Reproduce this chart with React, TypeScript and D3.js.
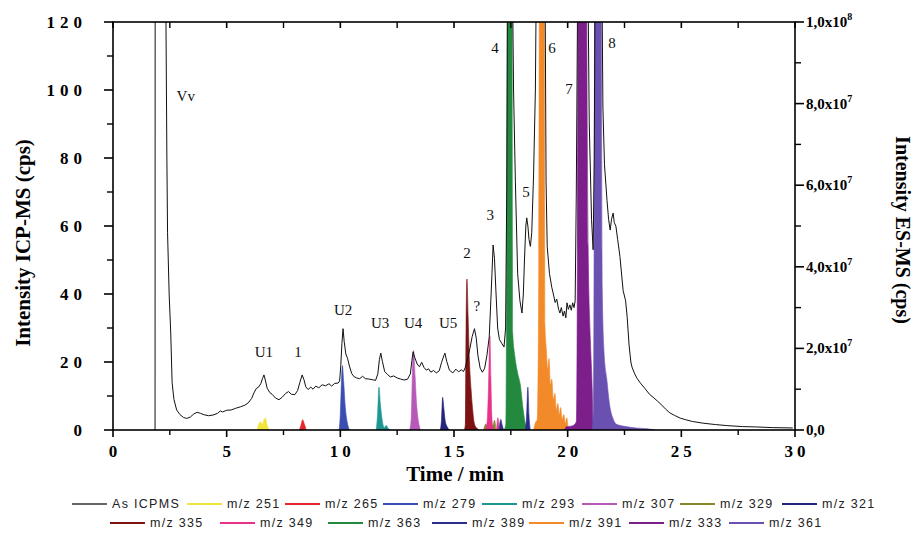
import React from "react";
import * as d3 from "d3";

type P = [number, number];

// ---------- axis ticks ----------
const timeTicks = [0, 5, 10, 15, 20, 25, 30];
const timeMinorTicks = [2.5, 7.5, 12.5, 17.5, 22.5, 27.5];
const icpTicks = [0, 20, 40, 60, 80, 100, 120];
const icpMinorTicks = [10, 30, 50, 70, 90, 110];
const esTicks = [0, 2e7, 4e7, 6e7, 8e7, 1e8];
const esMinorTicks = [1e7, 3e7, 5e7, 7e7, 9e7];
const esTickMantissa = ["0,0", "2,0x10", "4,0x10", "6,0x10", "8,0x10", "1,0x10"];
const esTickExponent = ["", "7", "7", "7", "7", "8"];

// ---------- As ICP-MS trace (time min, cps) ----------
const asIcpms: P[] = [
  [1.85, 0], [1.86, 300], [2.28, 300], [2.33, 120], [2.37, 80], [2.4, 58], [2.47, 40], [2.54, 28.5],
  [2.6, 14], [2.68, 9], [2.8, 5.9], [2.95, 4.5], [3.1, 3.7], [3.24, 3.4], [3.4, 3.8], [3.55, 4.7],
  [3.7, 5.2], [3.85, 4.9], [4.0, 4.5], [4.2, 4.2], [4.4, 4.4], [4.6, 4.9], [4.72, 5.6], [4.82, 5.3],
  [5.0, 5.8], [5.2, 5.9], [5.4, 6.4], [5.6, 6.8], [5.8, 7.3], [5.95, 8.0], [6.1, 9.3], [6.2, 10.9],
  [6.3, 12.2], [6.4, 12.6], [6.5, 13.6], [6.58, 15.2], [6.64, 16.2], [6.7, 14.7], [6.78, 12.3],
  [6.9, 11.0], [7.0, 10.5], [7.15, 9.4], [7.3, 8.9], [7.45, 9.7], [7.6, 10.8], [7.72, 11.3],
  [7.85, 10.5], [8.0, 10.4], [8.12, 11.6], [8.22, 14.0], [8.32, 16.2], [8.4, 14.8], [8.48, 12.7],
  [8.58, 11.9], [8.7, 12.6], [8.8, 12.0], [8.92, 12.9], [9.05, 12.4], [9.2, 13.3], [9.35, 13.0],
  [9.5, 13.6], [9.62, 12.9], [9.75, 13.7], [9.9, 13.8], [9.97, 14.4], [10.02, 19.0], [10.07, 25.5],
  [10.12, 29.8], [10.17, 26.0], [10.24, 22.4], [10.32, 21.0], [10.4, 18.8], [10.5, 16.6],
  [10.6, 15.7], [10.72, 15.3], [10.85, 15.1], [10.98, 15.8], [11.1, 15.1], [11.25, 15.0],
  [11.4, 14.8], [11.55, 14.6], [11.65, 16.5], [11.72, 20.8], [11.78, 22.6], [11.85, 20.2],
  [11.95, 17.2], [12.08, 16.3], [12.2, 15.6], [12.35, 15.9], [12.5, 15.3], [12.65, 15.0],
  [12.8, 14.7], [12.95, 14.9], [13.08, 16.5], [13.15, 20.5], [13.2, 23.0], [13.28, 21.2],
  [13.38, 19.4], [13.48, 18.6], [13.58, 19.9], [13.68, 18.4], [13.78, 17.6], [13.88, 18.0],
  [13.98, 17.0], [14.1, 17.5], [14.22, 16.8], [14.35, 17.4], [14.45, 19.8], [14.55, 21.8],
  [14.6, 22.6], [14.68, 20.2], [14.8, 17.6], [14.95, 16.8], [15.08, 17.9], [15.2, 17.1],
  [15.32, 17.7], [15.42, 17.2], [15.5, 18.5], [15.6, 21.0], [15.7, 24.0], [15.8, 27.5],
  [15.9, 29.8], [15.98, 27.0], [16.05, 22.0], [16.15, 18.2], [16.25, 17.0], [16.35, 18.2],
  [16.45, 22.0], [16.55, 27.4], [16.62, 38.0], [16.67, 46.0], [16.72, 54.4], [16.78, 50.5],
  [16.85, 40.0], [16.92, 30.0], [17.0, 26.6], [17.1, 25.5], [17.2, 24.4], [17.27, 30.0],
  [17.32, 70], [17.36, 140], [17.56, 140], [17.62, 100], [17.7, 73], [17.8, 46], [17.9, 38],
  [17.99, 34.4], [18.05, 40], [18.1, 50], [18.16, 60], [18.2, 62.4], [18.25, 60], [18.3, 56],
  [18.36, 54], [18.42, 58], [18.5, 75], [18.58, 100], [18.63, 140], [19.0, 140], [19.05, 73],
  [19.1, 54], [19.2, 46], [19.3, 42], [19.37, 40], [19.45, 37.5], [19.52, 38.5], [19.6, 35.5],
  [19.66, 34.4], [19.72, 36.0], [19.8, 33.5], [19.86, 35.0], [19.92, 33.0], [19.97, 37.4],
  [20.03, 35.5], [20.1, 36.8], [20.16, 35.2], [20.22, 37.4], [20.28, 36.0], [20.33, 38],
  [20.38, 70], [20.45, 140], [20.88, 140], [20.95, 90], [21.05, 62], [21.12, 53], [21.17, 80],
  [21.21, 140], [21.5, 140], [21.55, 95], [21.62, 78], [21.73, 67.6], [21.8, 62], [21.87, 58.8],
  [21.93, 62], [22.0, 63.8], [22.05, 61], [22.12, 60], [22.2, 56], [22.3, 51], [22.44, 41],
  [22.55, 38], [22.62, 33], [22.7, 25], [22.78, 20], [22.83, 18.5], [22.95, 16.5], [23.05, 15.2],
  [23.2, 13.8], [23.4, 12.2], [23.6, 10.5], [23.8, 9.4], [23.95, 8.5], [24.1, 7.6], [24.3, 6.2],
  [24.5, 5.0], [24.7, 4.3], [24.95, 3.5], [25.2, 3.0], [25.5, 2.5], [25.96, 2.0], [26.5, 1.6],
  [27.0, 1.3], [27.7, 1.0], [28.3, 0.9], [29.0, 0.7], [29.9, 0.6],
];

// ---------- ES-MS extracted ion traces (time min, cps) ----------
const mz251: P[] = [[6.35, 0], [6.42, 1.6e6], [6.5, 2.0e6], [6.57, 1.3e6], [6.63, 2.4e6], [6.71, 2.9e6], [6.78, 1.2e6], [6.86, 0]];
const mz265: P[] = [[8.2, 0], [8.27, 1.2e6], [8.34, 2.5e6], [8.41, 1.6e6], [8.5, 0]];
const mz279: P[] = [[9.95, 0], [10.0, 4e6], [10.05, 1.2e7], [10.09, 1.58e7], [10.15, 1.15e7], [10.22, 5.5e6], [10.3, 2e6], [10.4, 0]];
const mz293: P[] = [[11.58, 0], [11.64, 4e6], [11.7, 1.05e7], [11.76, 6.5e6], [11.84, 2.5e6], [11.93, 6e5], [12.02, 1.1e6], [12.1, 4e5], [12.2, 0]];
const mz307: P[] = [[13.05, 0], [13.12, 3e6], [13.17, 1.4e7], [13.22, 1.95e7], [13.29, 1.3e7], [13.36, 6e6], [13.44, 2e6], [13.52, 0]];
const mz329: P[] = [[16.3, 0], [16.4, 1.5e6], [16.48, 8e5], [16.72, 1.2e6], [16.78, 2.4e6], [16.85, 0]];
const mz321: P[] = [[14.4, 0], [14.45, 2.5e6], [14.5, 8e6], [14.56, 5e6], [14.62, 2e6], [14.7, 8e5], [14.8, 0]];
const mz335: P[] = [[15.45, 0], [15.5, 1.5e6], [15.53, 2.5e7], [15.57, 3.7e7], [15.62, 2.8e7], [15.68, 1.7e7], [15.75, 1.0e7], [15.82, 5e6], [15.9, 1.5e6], [16.0, 5e5], [16.1, 0]];
const mz349: P[] = [[16.4, 0], [16.47, 3e6], [16.52, 1.1e7], [16.58, 2.3e7], [16.62, 1.3e7], [16.66, 4e6], [16.7, 1e6], [16.76, 0], [16.86, 0], [16.93, 3e6], [16.99, 0]];
const mz363: P[] = [[17.2, 0], [17.28, 1.5e6], [17.31, 3e7], [17.35, 1.2e8], [17.46, 2.6e8], [17.55, 1.2e8], [17.58, 2.4e7], [17.68, 1.8e7], [17.8, 1.4e7], [17.92, 1.1e7], [18.02, 6e6], [18.12, 2e6], [18.22, 0]];
const mz389: P[] = [[16.98, 0], [17.06, 2.6e6], [17.12, 1.2e6], [17.2, 0], [18.12, 0], [18.19, 3e6], [18.25, 1.05e7], [18.3, 3.5e6], [18.36, 0]];
const mz391: P[] = [[18.5, 0], [18.58, 1.8e6], [18.66, 2.6e6], [18.72, 3e7], [18.76, 1.2e8], [18.87, 2.6e8], [18.97, 1.2e8], [19.0, 2.6e7], [19.06, 2.0e7], [19.12, 1.5e7], [19.18, 1.75e7], [19.24, 1.1e7], [19.3, 1.25e7], [19.37, 7.5e6], [19.44, 9e6], [19.5, 5e6], [19.57, 6.5e6], [19.63, 3.8e6], [19.69, 5.5e6], [19.76, 2.6e6], [19.83, 3.8e6], [19.9, 1.6e6], [19.96, 3e6], [20.02, 0]];
const mz333: P[] = [[19.85, 0], [19.95, 8e5], [20.2, 1e6], [20.38, 2e6], [20.42, 3e7], [20.46, 1.2e8], [20.64, 2.6e8], [20.82, 1.2e8], [20.9, 4.5e7], [21.0, 2.2e7], [21.08, 1e7], [21.12, 0]];
const mz361: P[] = [[21.08, 0], [21.13, 5e6], [21.16, 4e7], [21.19, 1.2e8], [21.33, 2.6e8], [21.47, 1.2e8], [21.52, 3.5e7], [21.6, 1.9e7], [21.72, 1.25e7], [21.85, 6e6], [21.98, 3e6], [22.15, 1.4e6], [22.5, 9e5], [23.0, 5e5], [23.5, 3e5], [23.85, 0]];

// ---------- peak annotations (time, ICP-MS cps) ----------
const peakLabels = ["Vv", "U1", "1", "U2", "U3", "U4", "U5", "2", "?", "3", "4", "5", "6", "7", "8"];
const peakLabelTime = [3.2, 6.64, 8.14, 10.12, 11.75, 13.2, 14.74, 15.57, 16.01, 16.59, 16.8, 18.17, 19.31, 20.06, 21.95];
const peakLabelLevel = [96.8, 21.5, 21.5, 33.8, 30, 30, 30, 50.6, 35, 61.8, 111, 68.5, 111, 98.8, 112.4];

// ---------- series definitions ----------
const esSeries = [
  { label: "m/z 251", data: mz251, color: "#f2e43a" },
  { label: "m/z 265", data: mz265, color: "#e6262b" },
  { label: "m/z 279", data: mz279, color: "#3a4db0" },
  { label: "m/z 293", data: mz293, color: "#1e9793" },
  { label: "m/z 307", data: mz307, color: "#b759b9" },
  { label: "m/z 329", data: mz329, color: "#86862a" },
  { label: "m/z 321", data: mz321, color: "#24247a" },
  { label: "m/z 335", data: mz335, color: "#7c1212" },
  { label: "m/z 349", data: mz349, color: "#e83189" },
  { label: "m/z 363", data: mz363, color: "#23893f" },
  { label: "m/z 389", data: mz389, color: "#2c2c8c" },
  { label: "m/z 391", data: mz391, color: "#f28a2a" },
  { label: "m/z 333", data: mz333, color: "#7c1f8b" },
  { label: "m/z 361", data: mz361, color: "#6a50b0" },
];

const legendRows = [
  { y: 508, items: [{ label: "As ICPMS", color: "#666666" }, ...esSeries.slice(0, 7)], xs: [72, 187, 285, 383, 482, 582, 680, 782] },
  { y: 527, items: esSeries.slice(7), xs: [110, 220, 328, 432, 529, 629, 729] },
];

const W = 917;
const H = 535;
const M = { left: 113, right: 795, top: 22, bottom: 430 };
const SERIF = "'Liberation Serif', 'Times New Roman', serif";
const SANS = "'Liberation Sans', Arial, sans-serif";

export default function App() {
  const x = d3.scaleLinear().domain([0, 30]).range([M.left, M.right]);
  const yL = d3.scaleLinear().domain([0, 120]).range([M.bottom, M.top]);
  const yR = d3.scaleLinear().domain([0, 1e8]).range([M.bottom, M.top]);

  const line = d3.line<P>().x((d) => x(d[0])).y((d) => yL(d[1]));
  const area = d3
    .area<P>()
    .x((d) => x(d[0]))
    .y0(yR(0))
    .y1((d) => yR(d[1]))
    .curve(d3.curveMonotoneX);

  return (
    <svg
      width={W}
      height={H}
      viewBox={`0 0 ${W} ${H}`}
      style={{ position: "absolute", left: 0, top: 0, display: "block", background: "#fff" }}
    >
      <defs>
        <clipPath id="plotClip">
          <rect x={M.left} y={M.top} width={M.right - M.left} height={M.bottom - M.top} />
        </clipPath>
      </defs>
      <rect x={0} y={0} width={W} height={H} fill="#fff" />

      <g clipPath="url(#plotClip)">
        {esSeries.map((s) => (
          <path key={s.label} d={area(s.data) || ""} fill={s.color} stroke={s.color} strokeWidth={0.6} />
        ))}
        <path d={line(asIcpms) || ""} fill="none" stroke="#111" strokeWidth={1} strokeLinejoin="round" />
      </g>

      {/* frame */}
      <rect
        x={M.left}
        y={M.top}
        width={M.right - M.left}
        height={M.bottom - M.top}
        fill="none"
        stroke="#000"
        strokeWidth={1.6}
      />

      {/* bottom axis */}
      {timeTicks.map((t) => (
        <g key={"bt" + t}>
          <line x1={x(t)} x2={x(t)} y1={M.bottom} y2={M.bottom + 7} stroke="#000" strokeWidth={1.6} />
          <line x1={x(t)} x2={x(t)} y1={M.top} y2={M.top + 6} stroke="#000" strokeWidth={1.6} />
          <text
            x={x(t) + 2}
            y={457}
            textAnchor="middle"
            fontFamily={SERIF}
            fontWeight="bold"
            fontSize={17}
            letterSpacing={4}
            fill="#000"
          >
            {t}
          </text>
        </g>
      ))}
      {timeMinorTicks.map((t) => (
        <g key={"bm" + t}>
          <line x1={x(t)} x2={x(t)} y1={M.bottom} y2={M.bottom + 5} stroke="#000" strokeWidth={1.4} />
          <line x1={x(t)} x2={x(t)} y1={M.top} y2={M.top + 6} stroke="#000" strokeWidth={1.4} />
        </g>
      ))}

      {/* left axis */}
      {icpTicks.map((v) => (
        <g key={"lt" + v}>
          <line x1={M.left - 9} x2={M.left} y1={yL(v)} y2={yL(v)} stroke="#000" strokeWidth={1.6} />
          <text
            x={87}
            y={yL(v) + 6}
            textAnchor="end"
            fontFamily={SERIF}
            fontWeight="bold"
            fontSize={17}
            letterSpacing={5}
            fill="#000"
          >
            {v}
          </text>
        </g>
      ))}
      {icpMinorTicks.map((v) => (
        <line key={"lm" + v} x1={M.left - 6} x2={M.left} y1={yL(v)} y2={yL(v)} stroke="#000" strokeWidth={1.4} />
      ))}

      {/* right axis */}
      {esTicks.map((v, i) => (
        <g key={"rt" + v}>
          <line x1={M.right} x2={M.right + 9} y1={yR(v)} y2={yR(v)} stroke="#000" strokeWidth={1.6} />
          <text x={806} y={yR(v) + 5} fontFamily={SERIF} fontWeight="bold" fontSize={15} fill="#000">
            {esTickMantissa[i]}
            {esTickExponent[i] && (
              <tspan fontSize={10} dy={-7}>
                {esTickExponent[i]}
              </tspan>
            )}
          </text>
        </g>
      ))}
      {esMinorTicks.map((v) => (
        <line key={"rm" + v} x1={M.right} x2={M.right + 6} y1={yR(v)} y2={yR(v)} stroke="#000" strokeWidth={1.4} />
      ))}

      {/* axis titles */}
      <text
        transform="translate(30,243) rotate(-90)"
        textAnchor="middle"
        fontFamily={SERIF}
        fontWeight="bold"
        fontSize={21}
        fill="#000"
      >
        Intensity ICP-MS (cps)
      </text>
      <text
        transform="translate(896,230) rotate(90)"
        textAnchor="middle"
        fontFamily={SERIF}
        fontWeight="bold"
        fontSize={20}
        fill="#000"
      >
        Intensity ES-MS (cps)
      </text>
      <text x={455} y={481} textAnchor="middle" fontFamily={SERIF} fontWeight="bold" fontSize={21} fill="#000">
        Time / min
      </text>

      {/* peak annotations */}
      {peakLabels.map((lab, i) => (
        <text
          key={"pl" + i}
          x={x(peakLabelTime[i])}
          y={yL(peakLabelLevel[i])}
          textAnchor="middle"
          fontFamily={SERIF}
          fontSize={15}
          fill="#111"
        >
          {lab}
        </text>
      ))}

      {/* legend */}
      {legendRows.map((row, r) =>
        row.items.map((it, i) => (
          <g key={"lg" + r + "-" + i}>
            <line x1={row.xs[i]} x2={row.xs[i] + 35} y1={row.y - 4} y2={row.y - 4} stroke={it.color} strokeWidth={2} />
            <text
              x={row.xs[i] + 40}
              y={row.y}
              fontFamily={SANS}
              fontSize={12.5}
              letterSpacing={1.3}
              fill="#222"
            >
              {it.label}
            </text>
          </g>
        ))
      )}
    </svg>
  );
}
